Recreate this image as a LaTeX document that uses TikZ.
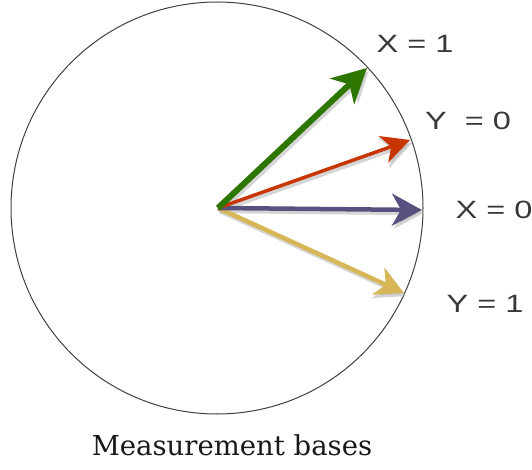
\documentclass[tikz,border=0pt]{standalone}
\usepackage{fontspec}
\setmainfont{DejaVu Serif}
\newfontfamily\labfont{Liberation Sans}
\usetikzlibrary{arrows.meta}
\definecolor{cgreen}{HTML}{2D7600}
\definecolor{cred}{HTML}{C73500}
\definecolor{cpurple}{HTML}{56517E}
\definecolor{cyellow}{HTML}{D6B656}
\newcommand{\stretchlab}[1]{\scalebox{1.3}[1]{#1}}
\begin{document}
\begin{tikzpicture}[x=1pt,y=-1pt,
  vec/.style={line cap=butt,-{Stealth[length=30pt,width=32pt,inset=9pt]}},
  shad/.style={vec,draw=gray!60,opacity=0.55},
  lab/.style={font=\labfont\fontsize{25}{28}\selectfont,text=black!78,inner sep=0pt},
  titlestyle/.style={font=\fontsize{27.5}{32}\selectfont,text=black!90,inner sep=0pt}]
\useasboundingbox (0,0) rectangle (532,470);
\node[circle,draw=black!75,line width=1pt,minimum size=412pt,inner sep=0pt] (circ) at (217,208) {};
\coordinate (c) at (218,208);
\coordinate (tg) at (367,68);
\coordinate (tr) at (410,140);
\coordinate (tp) at (422,210);
\coordinate (ty) at (404,293);
% shadows
\draw[shad,line width=6pt] ([shift={(2,3)}]c) -- ([shift={(2,3)}]tg);
\draw[shad,line width=3.5pt] ([shift={(2,3)}]c) -- ([shift={(2,3)}]tr);
\draw[shad,line width=4.5pt] ([shift={(2,3)}]c) -- ([shift={(2,3)}]tp);
\draw[shad,line width=4.5pt] ([shift={(2,3)}]c) -- ([shift={(2,3)}]ty);
% vectors
\draw[vec,draw=cyellow,fill=cyellow,line width=4.5pt,-{Stealth[length=28pt,width=29pt,inset=8pt]}] (c) -- (ty);
\draw[vec,draw=cpurple,fill=cpurple,line width=4.5pt] (c) -- (tp);
\draw[vec,draw=cred,fill=cred,line width=3.5pt,-{Stealth[length=28pt,width=28pt,inset=8pt]}] (c) -- (tr);
\draw[vec,draw=cgreen,fill=cgreen,line width=6pt,-{Stealth[length=34pt,width=35pt,inset=10pt]}] (c) -- (tg);
% labels
\node[lab] (lx1) at (415,44) {\stretchlab{X = 1}};
\node[lab] (ly0) at (468,121) {\stretchlab{Y \ = 0}};
\node[lab] (lx0) at (494,210) {\stretchlab{X = 0}};
\node[lab] (ly1) at (485,304) {\stretchlab{Y = 1}};
\node[titlestyle] (title) at (232,445) {Measurement bases};
\end{tikzpicture}
\end{document}
